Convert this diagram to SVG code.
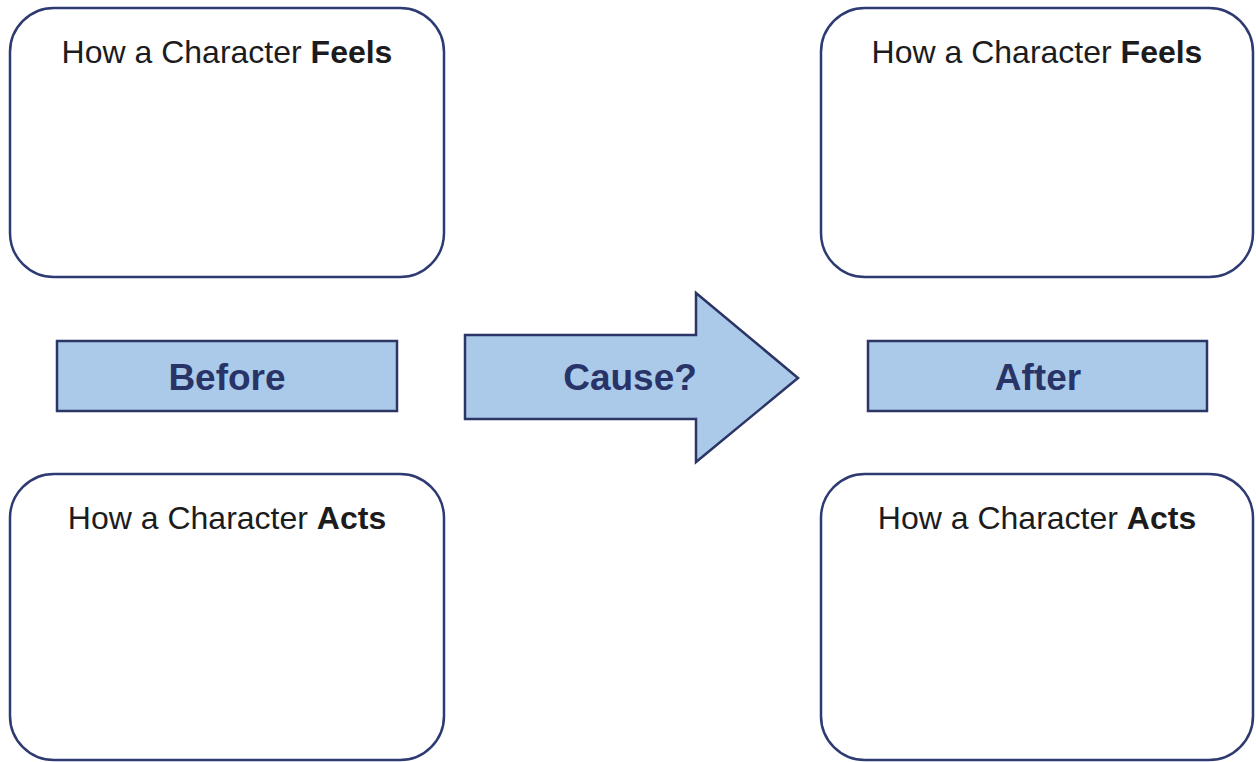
<svg xmlns="http://www.w3.org/2000/svg" width="1256" height="762" viewBox="0 0 1256 762">
<style>
.box{fill:#fff;stroke:#2e3a72;stroke-width:2.5}
.lbl{fill:#abcae9;stroke:#2b3566;stroke-width:2.5}
.t{font-family:"Liberation Sans",Arial,sans-serif;font-size:32px;fill:#1c1c1e;text-anchor:middle}
.b{font-weight:bold}
.lt{font-family:"Liberation Sans",Arial,sans-serif;font-size:37px;font-weight:bold;fill:#283368;text-anchor:middle}
</style>
<rect width="1256" height="762" fill="#fff"/>
<g id="before-feels">
<rect class="box" x="10" y="8" width="434" height="269" rx="44"/>
<text class="t" x="227" y="63">How a Character <tspan class="b">Feels</tspan></text>
</g>
<g id="after-feels">
<rect class="box" x="821" y="8" width="432" height="269" rx="44"/>
<text class="t" x="1037" y="63">How a Character <tspan class="b">Feels</tspan></text>
</g>
<g id="before-acts">
<rect class="box" x="10" y="474" width="434" height="286" rx="44"/>
<text class="t" x="227" y="529">How a Character <tspan class="b">Acts</tspan></text>
</g>
<g id="after-acts">
<rect class="box" x="821" y="474" width="432" height="286" rx="44"/>
<text class="t" x="1037" y="529">How a Character <tspan class="b">Acts</tspan></text>
</g>
<g id="before">
<rect class="lbl" x="57" y="341" width="340" height="70"/>
<text class="lt" x="227" y="390">Before</text>
</g>
<g id="connectors">
<g id="cause">
<polygon class="lbl" points="465,335 696,335 696,293 798,378 696,462 696,419 465,419"/>
<text class="lt" x="630" y="390">Cause?</text>
</g>
</g>
<g id="after">
<rect class="lbl" x="868" y="341" width="339" height="70"/>
<text class="lt" x="1038" y="390">After</text>
</g>
</svg>
